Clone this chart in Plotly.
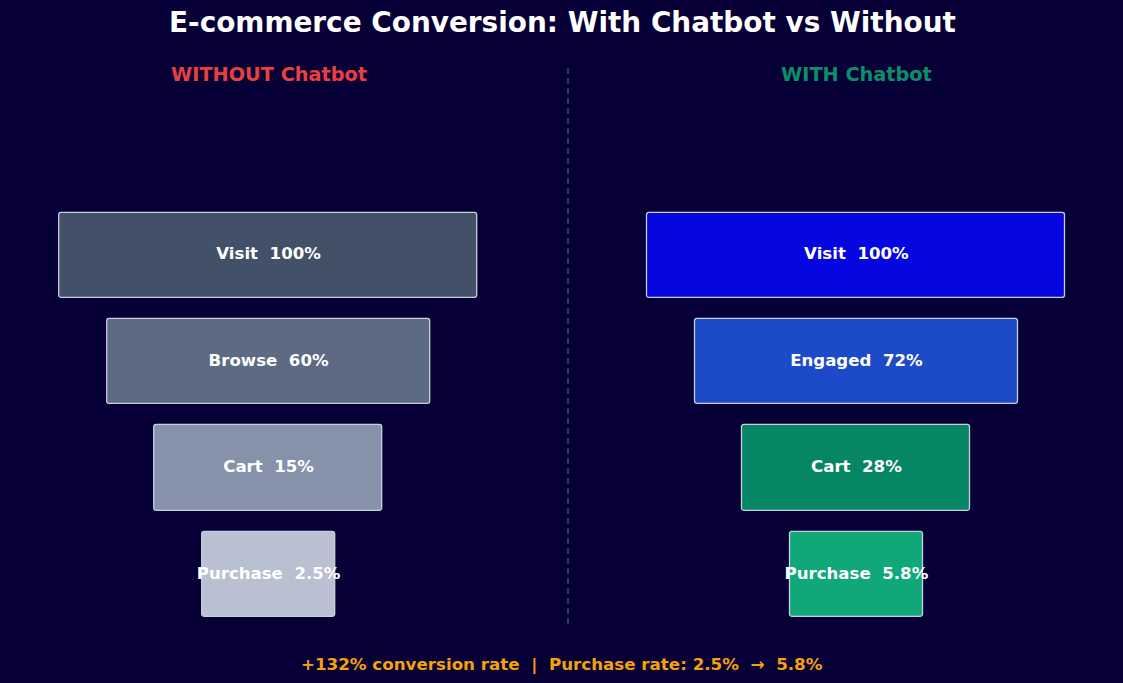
import plotly.graph_objects as go

# ---- data ----
stages_without = ["Visit", "Browse", "Cart", "Purchase"]
pct_without = [100, 60, 15, 2.5]
stages_with = ["Visit", "Engaged", "Cart", "Purchase"]
pct_with = [100, 72, 28, 5.8]
colors_without = ["#425068", "#5c6a83", "#8592aa", "#b9c0d1"]
colors_with = ["#0606e0", "#1c4ac8", "#068665", "#10a878"]

title_text = "E-commerce Conversion: With Chatbot vs Without"
panel_titles = ["WITHOUT Chatbot", "WITH Chatbot"]

BG = "#070036"
FONT = "DejaVu Sans, Verdana, sans-serif"
W, H = 1123, 683

# funnel box widths step down by stage (layout rule, not data)
def box_widths(n):
    return [0.88 - 0.2 * i for i in range(n)]

fig = go.Figure()

panels = [
    (stages_without, pct_without, colors_without, "x", "#e8403f"),
    (stages_with, pct_with, colors_with, "x2", "#0a9068"),
]

for stages, pcts, cols, xa, _ in panels:
    idx = list(range(len(stages)))
    widths = box_widths(len(stages))
    fig.add_trace(go.Bar(
        orientation="h",
        y=idx,
        x=widths,
        base=[-w / 2 for w in widths],
        width=0.8,
        marker=dict(color=cols, line=dict(color="#c9cde0", width=1.3), cornerradius=3),
        xaxis=xa, yaxis="y",
        hoverinfo="skip",
        showlegend=False,
    ))
    fig.add_trace(go.Scatter(
        x=[0] * len(stages),
        y=idx,
        mode="text",
        text=[f"<b>{s}  {p:g}%</b>" for s, p in zip(stages, pcts)],
        textposition="middle center",
        textfont=dict(color="white", size=16.6, family=FONT),
        xaxis=xa, yaxis="y",
        hoverinfo="skip",
        showlegend=False,
    ))

# axis geometry
unit_px = 475.0
xr = 0.55
half = xr * unit_px
centers_px = [268.6, 856.4]
doms = [[(c - half) / W, (c + half) / W] for c in centers_px]

row_px = 106.4
top_center_px = 255.2
y_top = -top_center_px / row_px
y_bot = 3 + (H - (top_center_px + 3 * row_px)) / row_px

axis_common = dict(showgrid=False, zeroline=False, showticklabels=False, ticks="",
                   showline=False, fixedrange=True)
fig.update_layout(
    xaxis=dict(domain=doms[0], range=[-xr, xr], anchor="y", **axis_common),
    xaxis2=dict(domain=doms[1], range=[-xr, xr], anchor="y", **axis_common),
    yaxis=dict(domain=[0, 1], range=[y_bot, y_top], **axis_common),
    width=W, height=H,
    margin=dict(l=0, r=0, t=0, b=0),
    paper_bgcolor=BG, plot_bgcolor=BG,
    bargap=0,
    font=dict(family=FONT, color="white"),
)

ann = []
ann.append(dict(text=f"<b>{title_text}</b>", x=562 / W, y=1 - 23 / H, xref="paper", yref="paper",
                showarrow=False, font=dict(size=27.9, color="white", family=FONT),
                xanchor="center", yanchor="middle"))
for (stages, pcts, cols, xa, tc), name, c in zip(panels, panel_titles, centers_px):
    ann.append(dict(text=f"<b>{name}</b>", x=c / W, y=1 - 75 / H, xref="paper", yref="paper",
                    showarrow=False, font=dict(size=19.3, color=tc, family=FONT),
                    xanchor="center", yanchor="middle"))

lift = (pct_with[-1] / pct_without[-1] - 1) * 100
footer = (f"<b>+{lift:.0f}% conversion rate  |  Purchase rate: "
          f"{pct_without[-1]:g}%  \u2192  {pct_with[-1]:g}%</b>")
ann.append(dict(text=footer, x=562 / W, y=1 - 664 / H, xref="paper", yref="paper",
                showarrow=False, font=dict(size=16.7, color="#f5a00c", family=FONT),
                xanchor="center", yanchor="middle"))
fig.update_layout(annotations=ann)

fig.add_shape(type="line", xref="paper", yref="paper",
              x0=568 / W, x1=568 / W, y0=1 - 68 / H, y1=1 - 627 / H,
              line=dict(color="#3b4a62", width=1.5, dash="6px,4px"))

fig.write_html(
    "out.html",
    config={"displayModeBar": False},
    post_script="document.body.style.margin='0';document.body.style.overflow='hidden';"
                "document.body.style.background='" + BG + "';",
)
